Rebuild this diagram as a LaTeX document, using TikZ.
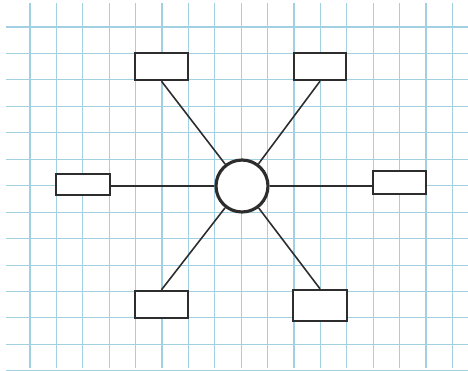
\documentclass[tikz,border=0pt]{standalone}
\usepackage{xcolor}
\usepackage{tikz}
\usetikzlibrary{positioning}
\definecolor{gridblue}{RGB}{160,208,226}
\definecolor{pencil}{RGB}{45,45,45}

\begin{document}
\begin{tikzpicture}[x=0.02cm, y=-0.02cm,
    box/.style={draw=pencil, line width=1.4pt, fill=white, inner sep=0pt,
                minimum width=1.06cm, minimum height=0.54cm},
    hubnode/.style={draw=pencil, line width=1.8pt, circle, fill=white,
                    inner sep=0pt, minimum size=1.04cm},
    spoke/.style={draw=pencil, line width=0.9pt}]
\useasboundingbox (0,0) rectangle (468,370);
\fill[white] (0,0) rectangle (468,370);
\foreach \k in {0,...,16}
  \draw[gridblue, line width=0.6pt] ({30+26.4*\k},3) -- ({30+26.4*\k},368);
\foreach \k in {0,...,13}
  \draw[gridblue, line width=0.6pt] (6,{27+26.45*\k}) -- (468,{27+26.45*\k});

\node[hubnode] (hub) at (242,186) {};
\node[box] (topleft) at (161.5,66.5) {};
\node[box, minimum width=1.04cm] (topright) at (320,66.5) {};
\node[box, minimum width=1.08cm, minimum height=0.42cm] (left) at (83,184.5) {};
\node[box, minimum height=0.46cm] (right) at (399.5,182.5) {};
\node[box] (bottomleft) at (161.5,304.5) {};
\node[box, minimum width=1.08cm, minimum height=0.62cm] (bottomright) at (320,305.5) {};

\draw[spoke] (topleft.south) -- (hub);
\draw[spoke] (topright.south) -- (hub);
\draw[spoke] (left.east |- hub) -- (hub);
\draw[spoke] (right.west |- hub) -- (hub);
\draw[spoke] (bottomleft.north) -- (hub);
\draw[spoke] (bottomright.north) -- (hub);
\end{tikzpicture}
\end{document}
